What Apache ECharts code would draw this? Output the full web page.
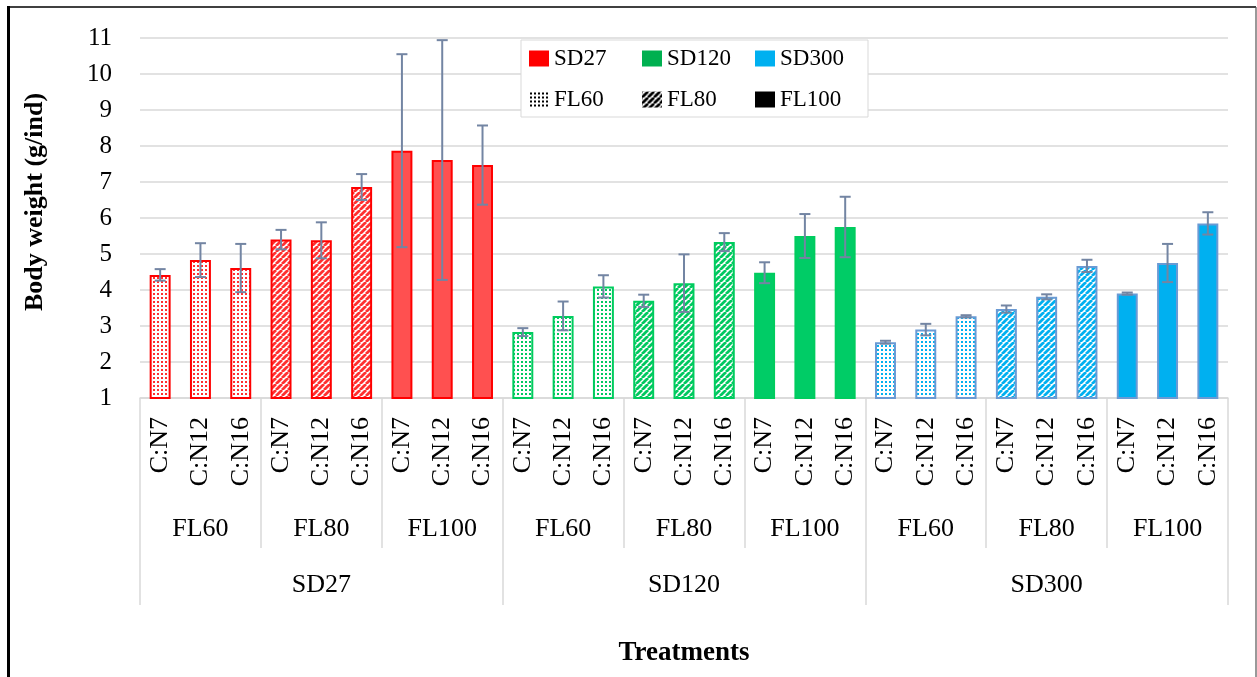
<!DOCTYPE html>
<html><head><meta charset="utf-8">
<script src="https://cdn.jsdelivr.net/npm/echarts@6/dist/echarts.min.js"></script>
<style>html,body{margin:0;padding:0;background:#fff;}#c{width:1257px;height:677px;}</style>
</head><body><div id="c"></div>
<script>
// ---- data ----
const conditions = ['C:N7', 'C:N12', 'C:N16'];
const feedLevels = ['FL60', 'FL80', 'FL100'];
const densities = ['SD27', 'SD120', 'SD300'];
const yTicks = [1, 11, 1]; // min, max, interval
const means = [4.42, 4.83, 4.61, 5.40, 5.38, 6.86, 7.87, 7.61, 7.47,
               2.83, 3.28, 4.10, 3.70, 4.19, 5.33, 4.48, 5.50, 5.75,
               2.55, 2.90, 3.27, 3.47, 3.81, 4.67, 3.90, 4.75, 5.85];
const errors = [0.16, 0.47, 0.67, 0.27, 0.50, 0.36, 2.68, 3.33, 1.10,
                0.11, 0.40, 0.31, 0.17, 0.80, 0.25, 0.29, 0.61, 0.84,
                0.04, 0.16, 0.03, 0.10, 0.07, 0.17, 0.03, 0.53, 0.31];

// ---- styles ----
const FONT = 'Liberation Serif';
const sdStyle = {
  SD27:  {border: '#FF0000', pat: '#FF3030', solid: '#FF5050', legend: '#FF0000'},
  SD120: {border: '#00CC5E', pat: '#00C860', solid: '#00CC66', legend: '#00B050'},
  SD300: {border: '#6A9AD4', pat: '#00B0F0', solid: '#00B0F0', legend: '#00B0F0'}
};
function pattern(color, kind) {
  const s = kind === 'dots' ? 4 : 6;
  const c = document.createElement('canvas'); c.width = s; c.height = s;
  const g = c.getContext('2d');
  g.fillStyle = '#fff'; g.fillRect(0, 0, s, s);
  g.fillStyle = color; g.strokeStyle = color;
  if (kind === 'dots') { g.fillRect(1, 1, 2, 2); }
  else {
    g.lineWidth = 2.8; g.beginPath();
    for (const k of [-s, 0, s]) { g.moveTo(k, s); g.lineTo(k + s, 0); }
    g.stroke();
  }
  return {image: c, repeat: 'repeat'};
}

const cats = [];
const feedCats = [];
const barData = [];
densities.forEach((sd, si) => {
  feedLevels.forEach((fl, fi) => {
    feedCats.push(fl);
    conditions.forEach((cn, ci) => {
      cats.push(cn);
      const idx = si * 9 + fi * 3 + ci;
      const st = sdStyle[sd];
      const fill = fi === 0 ? pattern(st.pat, 'dots') : fi === 1 ? pattern(st.pat, 'stripes') : st.solid;
      barData.push({value: means[idx], itemStyle: {color: fill, borderColor: st.border, borderWidth: 2}});
    });
  });
});
const errData = means.map((m, i) => [i, m - errors[i], m + errors[i]]);

const chart = echarts.init(document.getElementById('c'));
const gridLine = '#d9d9d9';
const legendItems = [
  {name: 'SD27', color: sdStyle.SD27.legend},
  {name: 'SD120', color: sdStyle.SD120.legend},
  {name: 'SD300', color: sdStyle.SD300.legend},
  {name: 'FL60', color: pattern('#000', 'dots')},
  {name: 'FL80', color: pattern('#000', 'stripes')},
  {name: 'FL100', color: '#000'}
];
const legendSeries = legendItems.map(d => ({name: d.name, type: 'scatter', data: [],
  itemStyle: {color: d.color, opacity: 1}}));
const legends = legendItems.map((d, i) => ({
  data: [d.name], left: 529 + (i % 3) * 113, top: i < 3 ? 47 : 88,
  itemWidth: 20, itemHeight: 16, itemGap: 0, padding: 0, icon: 'rect', selectedMode: false, z: 6,
  textStyle: {fontFamily: FONT, fontSize: 23, color: '#000'}
}));

chart.setOption({
  animation: false,
  backgroundColor: '#fff',
  grid: {left: 140, right: 29, top: 38, bottom: 279},
  legend: legends,
  xAxis: [
    {type: 'category', data: cats, position: 'bottom',
     axisLine: {lineStyle: {color: gridLine, width: 1.5}}, axisTick: {show: false},
     axisLabel: {rotate: 90, interval: 0, margin: 19, fontFamily: FONT, fontSize: 26, color: '#000'}},
    {type: 'category', data: feedCats, position: 'bottom',
     axisLine: {show: false},
     axisTick: {show: true, length: 150, lineStyle: {color: gridLine, width: 1.5}},
     axisLabel: {interval: 0, margin: 118, fontFamily: FONT, fontSize: 26, color: '#000'}},
    {type: 'category', data: densities, position: 'bottom',
     axisLine: {show: false},
     axisTick: {show: true, length: 207, lineStyle: {color: gridLine, width: 1.5}},
     axisLabel: {interval: 0, margin: 174, fontFamily: FONT, fontSize: 26, color: '#000'},
     name: 'Treatments', nameLocation: 'middle', nameGap: 242,
     nameTextStyle: {fontFamily: FONT, fontSize: 27, fontWeight: 'bold', color: '#000'}}
  ],
  yAxis: {
    type: 'value', min: yTicks[0], max: yTicks[1], interval: yTicks[2],
    axisLine: {show: false}, axisTick: {show: false},
    splitLine: {lineStyle: {color: gridLine, width: 1.5}},
    axisLabel: {margin: 28, fontFamily: FONT, fontSize: 25, color: '#000'},
    name: 'Body weight (g/ind)', nameLocation: 'middle', nameGap: 92,
    nameTextStyle: {fontFamily: FONT, fontSize: 26, fontWeight: 'bold', color: '#000', padding: [0, 0, 0, 32]}
  },
  graphic: [
    {type: 'rect', z: 5, shape: {x: 521, y: 40, width: 347, height: 77},
     style: {fill: '#fff', stroke: '#d9d9d9', lineWidth: 1}},
    {type: 'line', z: 10, shape: {x1: 8.5, y1: 6, x2: 8.5, y2: 680}, style: {stroke: '#000', lineWidth: 3}},
    {type: 'line', z: 10, shape: {x1: 7, y1: 7, x2: 1256, y2: 7}, style: {stroke: '#000', lineWidth: 1.5}},
    {type: 'line', z: 10, shape: {x1: 1256, y1: 7, x2: 1256, y2: 680}, style: {stroke: '#555', lineWidth: 1.2}}
  ],
  series: [
    {type: 'bar', xAxisIndex: 0, data: barData, barWidth: '52%', z: 2},
    {type: 'custom', xAxisIndex: 0, data: errData, z: 4,
     renderItem: function (params, api) {
       const x = api.value(0);
       const lo = api.coord([x, api.value(1)]);
       const hi = api.coord([x, api.value(2)]);
       const hw = 5.5;
       const st = {stroke: '#7385A3', lineWidth: 2};
       return {type: 'group', children: [
         {type: 'line', shape: {x1: hi[0], y1: hi[1], x2: lo[0], y2: lo[1]}, style: st},
         {type: 'line', shape: {x1: hi[0] - hw, y1: hi[1], x2: hi[0] + hw, y2: hi[1]}, style: st},
         {type: 'line', shape: {x1: lo[0] - hw, y1: lo[1], x2: lo[0] + hw, y2: lo[1]}, style: st}
       ]};
     }}
  ].concat(legendSeries)
});
</script></body></html>
